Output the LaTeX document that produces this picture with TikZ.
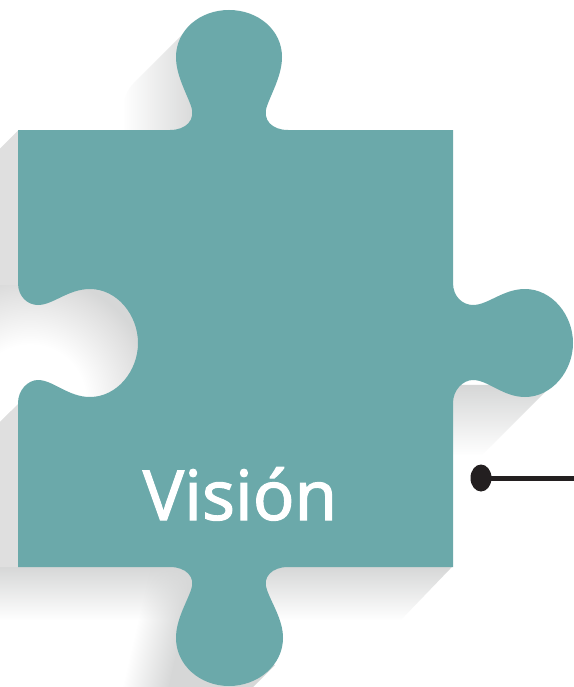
\documentclass[tikz,border=0pt]{standalone}
\usepackage{fontspec}
\setmainfont[FakeBold=1.5]{Noto Sans}
\usetikzlibrary{fadings,shapes.geometric}
\definecolor{teal1}{HTML}{6BA9AA}
\definecolor{ink}{HTML}{231F20}
\definecolor{shadowgray}{HTML}{D6D7D7}
\definecolor{stripgray}{HTML}{DFDFDF}
\pgfdeclareradialshading{notchshade}{\pgfpoint{0bp}{0bp}}{color(0bp)=(white); color(6.9bp)=(white); color(14bp)=(stripgray); color(15.6bp)=(shadowgray); color(50bp)=(shadowgray)}
\tikzfading[name=fadeleft, left color=transparent!100, right color=transparent!0]
\tikzfading[name=fadedown, top color=transparent!0, bottom color=transparent!100]
\tikzset{
  puzzle/.style={fill=teal1, draw=none},
  caption/.style={text=white, font=\fontsize{69bp}{80bp}\selectfont, inner sep=0pt, anchor=base},
  leaderdot/.style={ellipse, fill=ink, minimum width=21bp, minimum height=27bp, inner sep=0pt},
  leaderline/.style={draw=ink, line width=5bp}
}
\begin{document}
\begin{tikzpicture}[x=1bp,y=-1bp]
\useasboundingbox (0,0) rectangle (574,687);
\fill[white] (0,0) rectangle (574,687);
% shadow of top knob
\fill[shadowgray, path fading=fadeleft] (190,27) -- (133,84) .. controls (127,90) and (123,100) .. (123,110) -- (123,131) -- (200,131) -- (200,27) -- cycle;
% shadow below right knob
\fill[shadowgray, path fading=fadedown] (452,385) -- (552,385) -- (482,455) -- (452,455) -- cycle;
% shadow below body
\fill[shadowgray, path fading=fadedown] (0,566) -- (453,566) -- (401,620) -- (0,620) -- cycle;
% shadow left of bottom knob
\begin{scope}
\clip (100,566) rectangle (200,687);
\fill[shadowgray, path fading=fadeleft, transform canvas={rotate around={-13:(150,630)}}] (136,500) rectangle (182,760);
\fill[shadowgray, transform canvas={rotate around={-13:(150,630)}}] (181.5,500) rectangle (260,760);
\end{scope}
\fill[shadowgray] (190,640) -- (275,665) -- (253,687) -- (190,687) -- cycle;
% left strips
\fill[stripgray] (18.5,130) -- (0,148.5) -- (0,300) -- (19,300) -- cycle;
\fill[stripgray] (19,403) -- (0,422) -- (0,567) -- (19,567) -- cycle;
% notch
\begin{scope}
\clip (0,285) rectangle (140,410);
\shade[shading=notchshade] (30,400) circle[radius=200];
\end{scope}
\fill[stripgray] (19,403) -- (0,422) -- (0,440) -- (19,440) -- cycle;
% puzzle
\path[puzzle] (18,130) -- (170,130)
  .. controls (186,130) and (196,120) .. (191,106)
  .. controls (186,92) and (176,75) .. (176,57)
  .. controls (176,30) and (200,10) .. (229,10)
  .. controls (258,10) and (282,30) .. (282,57)
  .. controls (282,75) and (272,92) .. (267,106)
  .. controls (262,120) and (272,130) .. (288,130)
  -- (453,130) -- (453,283)
  .. controls (453,297) and (463,305) .. (473,305)
  .. controls (488,305) and (503,289) .. (525,289)
  .. controls (552,289) and (573,315) .. (573,343)
  .. controls (573,371) and (552,397) .. (525,397)
  .. controls (503,397) and (488,380) .. (473,380)
  .. controls (463,380) and (453,390) .. (453,403)
  -- (453,567) -- (288,567)
  .. controls (272,567) and (262,577) .. (267,590)
  .. controls (272,604) and (283,620) .. (283,638)
  .. controls (283,665) and (258,686) .. (229,686)
  .. controls (200,686) and (176,665) .. (176,638)
  .. controls (176,620) and (186,604) .. (191,590)
  .. controls (196,577) and (186,567) .. (170,567)
  -- (18,567) -- (18,403)
  .. controls (18,390) and (28,380) .. (38,380)
  .. controls (53,380) and (68,397) .. (90,397)
  .. controls (117,397) and (138,371) .. (138,343)
  .. controls (138,315) and (117,289) .. (90,289)
  .. controls (68,289) and (53,305) .. (38,305)
  .. controls (28,305) and (18,297) .. (18,283)
  -- cycle;
\node[caption] (title) at (240,520) {Visión};
\node[leaderdot] (dot) at (481,478) {};
\coordinate (lineend) at (574,478);
\draw[leaderline] (dot.center) -- (lineend);
\end{tikzpicture}
\end{document}
